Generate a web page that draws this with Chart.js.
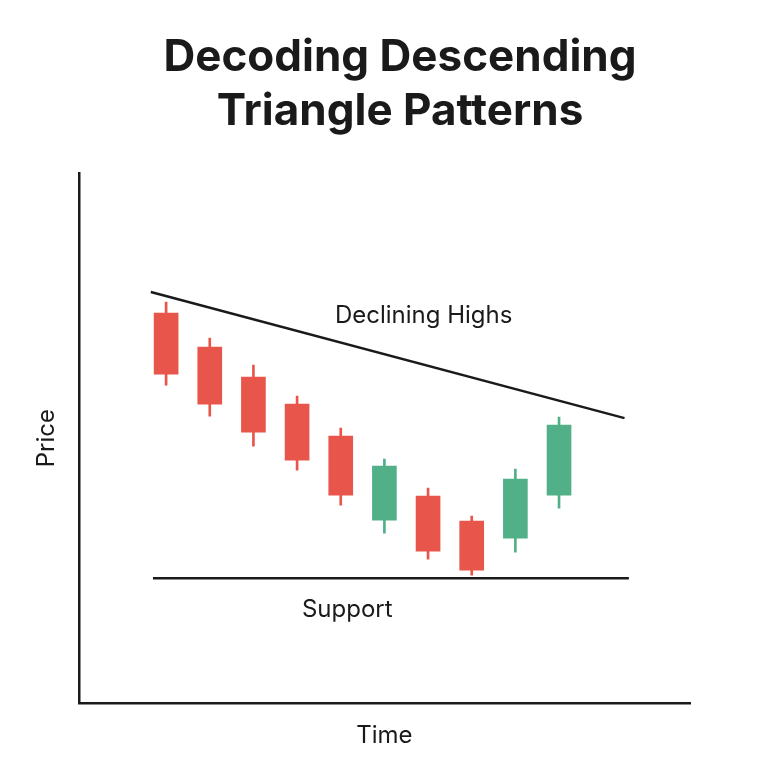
<!DOCTYPE html>
<html>
<head>
<meta charset="utf-8">
<script src="https://cdn.jsdelivr.net/npm/chart.js@4"></script>
<style>
  body { margin: 0; background: #fff; }
  canvas { display: block; }
</style>
</head>
<body>
<canvas id="c" width="768" height="768"></canvas>
<script>
// candle positions on the time axis and OHLC-ish values (price units)
const candleX = [2, 3, 4, 5, 6, 7, 8, 9, 10, 11];
const opens  = [390, 356, 326, 299, 267, 183, 207, 182, 165, 208];
const closes = [329, 299, 271, 243, 208, 237, 152, 133, 224, 278];
const highs  = [401, 365, 338, 307, 275, 244, 215, 187, 234, 286];
const lows   = [318, 287, 257, 233, 198, 170, 144, 128, 151, 195];
const upColor = '#52b088';
const downColor = '#e8554a';

// reference lines
const trendX = [1.65, 12.5];
const trendY = [411, 285];
const supportX = [1.7, 12.6];
const supportY = [125, 125];

const titleLines = ['Decoding Descending', 'Triangle Patterns'];

const candleColors = opens.map((o, i) => closes[i] > o ? upColor : downColor);

const labelPlugin = {
    id: 'labels',
    afterDatasetsDraw(chart) {
        const ctx = chart.ctx;
        const xs = chart.scales.x, ys = chart.scales.y;
        ctx.save();
        ctx.fillStyle = '#1a1a1a';
        ctx.textAlign = 'center';
        ctx.textBaseline = 'middle';
        ctx.font = 'bold 44px Inter, "Noto Sans", sans-serif';
        ctx.fillText(titleLines[0], 400, 58);
        ctx.fillText(titleLines[1], 400, 112);
        ctx.font = '24px Inter, "Noto Sans", sans-serif';
        ctx.fillText('Declining Highs', xs.getPixelForValue(7.9), ys.getPixelForValue(387));
        ctx.fillText('Support', xs.getPixelForValue(6.15), ys.getPixelForValue(93));
        ctx.restore();
    }
};

new Chart(document.getElementById('c'), {
    type: 'bar',
    data: {
        datasets: [
            {
                label: 'wicks',
                data: candleX.map((x, i) => ({ x: x, y: [lows[i], highs[i]] })),
                backgroundColor: candleColors,
                barThickness: 2,
                grouped: false,
                order: 2
            },
            {
                label: 'bodies',
                data: candleX.map((x, i) => ({ x: x, y: [opens[i], closes[i]] })),
                backgroundColor: candleColors,
                barThickness: 24,
                grouped: false,
                order: 1
            },
            {
                type: 'line',
                label: 'trend',
                data: trendX.map((x, i) => ({ x: x, y: trendY[i] })),
                borderColor: '#1a1a1a',
                borderWidth: 2.5,
                pointRadius: 0
            },
            {
                type: 'line',
                label: 'support',
                data: supportX.map((x, i) => ({ x: x, y: supportY[i] })),
                borderColor: '#1a1a1a',
                borderWidth: 2.5,
                pointRadius: 0
            }
        ]
    },
    options: {
        responsive: false,
        animation: false,
        layout: { padding: { left: 28, right: 78, top: 173, bottom: 14 } },
        plugins: {
            legend: { display: false },
            tooltip: { enabled: false },
            title: { display: false }
        },
        scales: {
            x: {
                type: 'linear',
                min: 0, max: 14,
                offset: false,
                grid: { display: false, drawTicks: false },
                border: { color: '#1a1a1a', width: 2.5 },
                ticks: { display: false },
                title: { display: true, text: 'Time', color: '#1a1a1a', font: { size: 24, family: 'Inter, "Noto Sans", sans-serif' }, padding: { top: 18 } }
            },
            y: {
                min: 0, max: 530,
                grid: { display: false, drawTicks: false },
                border: { color: '#1a1a1a', width: 2.5 },
                ticks: { display: false },
                title: { display: true, text: 'Price', color: '#1a1a1a', font: { size: 24, family: 'Inter, "Noto Sans", sans-serif' }, padding: { bottom: 18 } }
            }
        }
    },
    plugins: [labelPlugin]
});
</script>
</body>
</html>
